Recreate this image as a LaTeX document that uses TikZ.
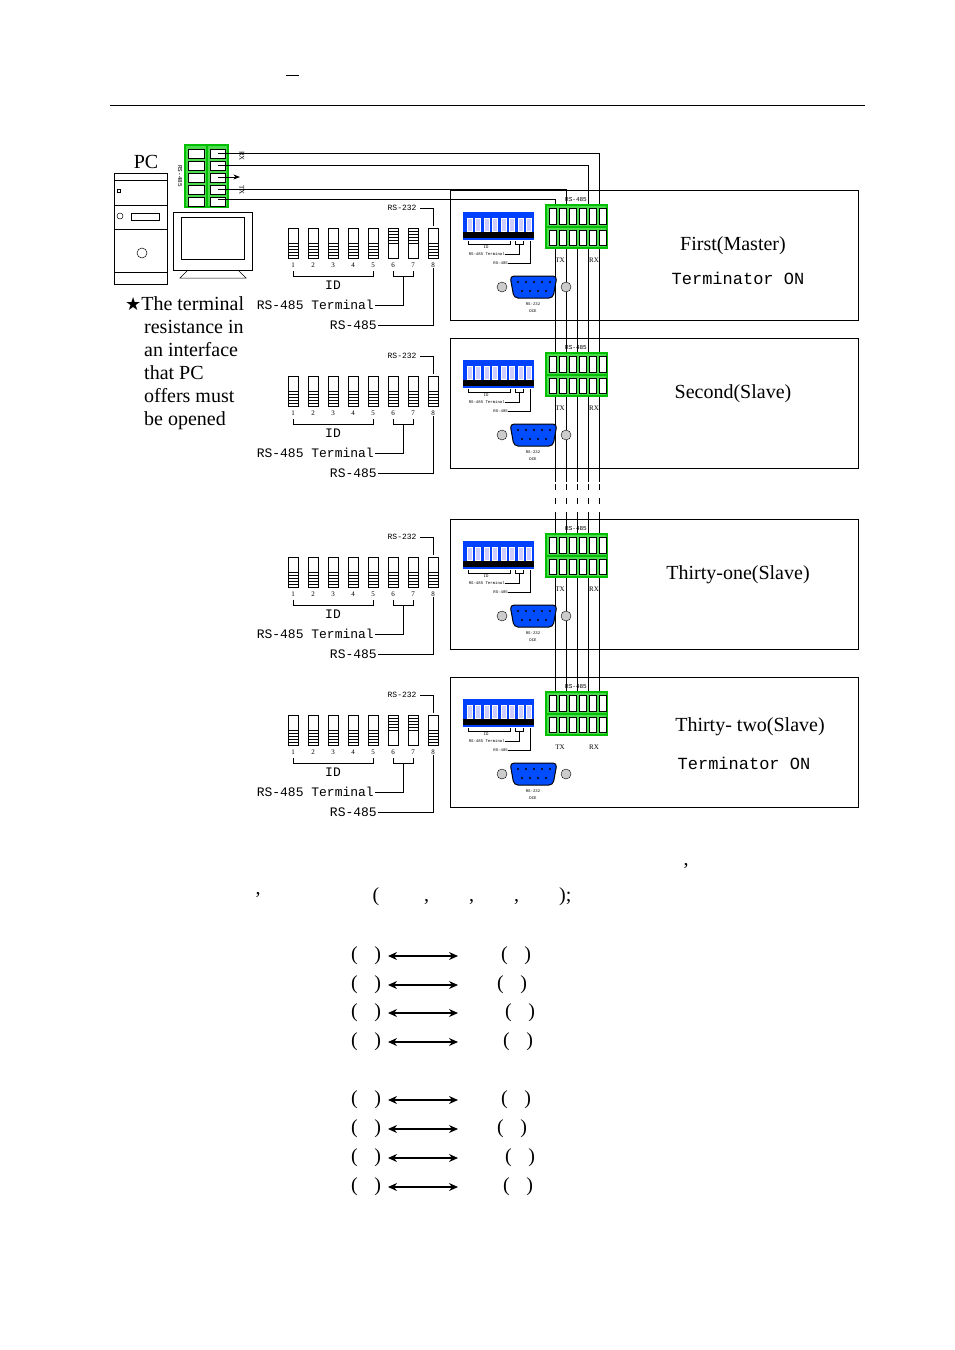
\documentclass[tikz,border=0pt]{standalone}
\usepackage{fontspec}
\setmainfont{Liberation Serif}
\newfontfamily\monofont{Liberation Mono}
\newfontfamily\symfont{DejaVu Sans}
\usetikzlibrary{arrows.meta}
\tikzset{
  dip/.style = {draw, fill=white, line width=0.6pt},
  bus/.style = {line width=0.8pt},
  thin line/.style = {line width=0.5pt},
  label/.style = {font=\fontsize{20}{22}\selectfont, inner sep=0pt},
  mono/.style = {font=\monofont\fontsize{13}{14}\selectfont, inner sep=1pt},
  tiny/.style = {font=\monofont\fontsize{4}{5}\selectfont, inner sep=0pt},
  blk/.style = {draw=green!75!black, fill=green!80!black!70!white, line width=1.2pt},
  slot/.style = {draw=black, fill=white, line width=0.4pt},
  pair/.style = {{Stealth[length=9pt,width=8pt]}-{Stealth[length=9pt,width=8pt]}, line width=1.1pt}
}
% one switch: x position, knob up (1) or down (0)
\newcommand\dipswitch[2]{%
  \draw[dip] (#1-5,228) rectangle (#1+5,258);
  \ifnum#2=1
    \foreach \k in {231,234,...,243} \draw[thin line] (#1-5,\k) -- (#1+5,\k);
  \else
    \foreach \k in {243,246,...,255} \draw[thin line] (#1-5,\k) -- (#1+5,\k);
  \fi}
% a whole unit: left switch drawing and panel with modules
\newcommand\devunit[4]{%
  \begin{scope}[shift={(0,#1)}]
    % switch settings drawing
    \foreach \i/\s in {1/0,2/0,3/0,4/0,5/0,6/#2,7/#2,8/0} {
      \pgfmathsetmacro\xx{273+20*\i}
      \dipswitch{\xx}{\s}
      \node[font=\fontsize{7}{8}\selectfont] at (\xx,265) {\i};
    }
    \draw[thin line] (293,271) -- (293,276) -- (373,276) -- (373,271);
    \node[mono] at (333,285) {ID};
    \draw[thin line] (393,271) -- (393,276) -- (413,276) -- (413,271);
    \draw[thin line] (403,276) -- (403,305) -- (375,305);
    \node[mono, anchor=east] (term) at (375,305) {RS-485 Terminal};
    \draw[thin line] (433,268) -- (433,325) -- (378,325);
    \node[mono, anchor=east] at (378,325) {RS-485};
    \draw[thin line] (433,226) -- (433,208) -- (420,208);
    \node[font=\monofont\fontsize{8}{9}\selectfont, anchor=east] at (420,208) {RS-232};
    % panel
    \draw[line width=0.7pt] (450,190) rectangle (858,320);
    % blue dip module
    \fill[blue!75!cyan] (463,212) rectangle (534,240);
    \fill[black] (463,232) rectangle (534,238);
    \foreach \i in {0,...,7} \draw[white, fill=white!80!blue] (467+8.5*\i,218) rectangle (472+8.5*\i,231);
    \draw[thin line] (468,241) -- (468,244) -- (510,244) -- (510,241);
    \node[tiny] at (486,247) {ID};
    \draw[thin line] (515,241) -- (515,244) -- (523,244) -- (523,241);
    \draw[thin line] (519,244) -- (519,254) -- (505,254);
    \node[tiny, anchor=east] at (505,254) {RS-485 Terminal};
    \draw[thin line] (530,241) -- (530,263) -- (508,263);
    \node[tiny, anchor=east] at (508,263) {RS-485};
    % DB9 port
    \draw[fill=gray!40] (502,287) circle (5);
    \draw[fill=gray!40] (566,287) circle (5);
    \draw[line width=1pt, fill=blue!70!cyan, rounded corners=4pt] (510,276) -- (557,276) -- (553,298) -- (514,298) -- cycle;
    \foreach \i in {0,...,4} \fill (518+8*\i,282) circle (1.2);
    \foreach \i in {0,...,3} \fill (522+8*\i,291) circle (1.2);
    \node[tiny] at (533,304) {RS-232};
    \node[tiny] at (533,311) {DCE};
    % green terminal block
    \draw[blk] (546,205) rectangle (607,227);
    \draw[blk] (546,227) rectangle (607,248);
    \foreach \i in {0,...,5} {
      \draw[slot] (549+10*\i,208) rectangle (556+10*\i,224);
      \draw[slot] (549+10*\i,230) rectangle (556+10*\i,245);
    }
    \node[tiny, font=\monofont\fontsize{6}{7}\selectfont] at (576,200) {RS-485};
    \node[font=\fontsize{7}{8}\selectfont] at (560,260) {TX};
    \node[font=\fontsize{7}{8}\selectfont] at (594,260) {RX};
    \node[label] at (#3) {#4};
  \end{scope}}
\begin{document}
\begin{tikzpicture}[x=1pt, y=-1pt]
  \useasboundingbox[fill=white] (0,0) rectangle (954,1350);
  % header rule
  \draw[thin line] (110,105) -- (865,105);
  \draw[thin line] (286,75) -- (299,75);

  % PC tower and monitor
  \node[label] (pc) at (146,162) {PC};
  \draw[thin line] (114,173) rectangle (167,284);
  \draw[thin line] (114,180) -- (167,180);
  \draw[thin line] (114,205) -- (167,205);
  \draw[thin line] (114,229) -- (167,229);
  \draw[thin line] (114,272) -- (167,272);
  \draw[thin line] (117,189) rectangle (120,192);
  \draw[thin line] (120,216) circle (3);
  \draw[thin line] (131,213) rectangle (159,220);
  \draw[thin line] (142,253) circle (5);
  \draw[thin line] (173,212) rectangle (252,270);
  \draw[thin line] (181,217) rectangle (244,259);
  \draw[thin line] (188,270) -- (180,278) -- (246,278) -- (238,270);

  % PC side connector
  \draw[blk] (185,145) rectangle (207,207);
  \draw[blk] (207,145) rectangle (228,207);
  \foreach \j in {0,...,4} {
    \draw[slot] (188,149+12*\j) rectangle (204,158+12*\j);
    \draw[slot] (210,149+12*\j) rectangle (225,158+12*\j);
  }
  \node[rotate=-90, font=\monofont\fontsize{6}{7}\selectfont] at (180,176) {RS-485};
  \node[rotate=-90, font=\fontsize{7}{8}\selectfont] at (242,156) {RX};
  \node[rotate=-90, font=\fontsize{7}{8}\selectfont] at (242,190) {TX};

  % bus lines
  \coordinate (b1) at (555,199);
  \coordinate (b2) at (566,189);
  \coordinate (b4) at (588,165);
  \coordinate (b5) at (599,153);
  \draw[bus] (218,153) -- (b5) -- (599,482);
  \draw[bus] (218,165) -- (b4) -- (588,482);
  \draw[bus, -Stealth] (218,177) -- (240,177);
  \draw[bus] (577,218) -- (577,482);
  \draw[bus] (218,189) -- (b2) -- (566,482);
  \draw[bus] (218,199) -- (b1) -- (555,482);
  \foreach \x in {555,566,577,588,599} {
    \draw[bus, dash pattern=on 6pt off 8pt] (\x,484) -- (\x,518);
    \draw[bus] (\x,518) -- (\x,700);
  }

  % units
  \devunit{0}{1}{733,246}{First(Master)}
  \node[label] at (738,278) {\monofont\fontsize{17}{18}\selectfont Terminator ON};
  \devunit{148}{0}{733,246}{Second(Slave)}
  \devunit{329}{0}{738,246}{Thirty-one(Slave)}
  \devunit{487}{1}{750,240}{Thirty- two(Slave)}
  \node[label] at (744,763) {\monofont\fontsize{17}{18}\selectfont Terminator ON};

  % note
  \node[label, anchor=north west, align=left, font=\fontsize{20}{23}\selectfont] (note) at (125,296)
    {{\symfont\fontsize{18}{20}\selectfont ★}The terminal\\\hspace*{19pt}resistance in\\\hspace*{19pt}an interface\\\hspace*{19pt}that PC\\\hspace*{19pt}offers must\\\hspace*{19pt}be opened};

  % text below
  \node[label] at (686,866) {,};
  \node[label] at (258,895) {,};
  \node[label] at (472,897) {(\qquad\ ,\qquad ,\qquad ,\qquad );};

  % pin pairs
  \foreach \y/\d in {956/0,985/-4,1013/4,1042/2,1100/0,1129/-4,1158/4,1187/2} {
    \node[label] (l\y) at (366,\y) {(\;\;\;)};
    \node[label] (r\y) at (516+\d,\y) {(\;\;\;)};
    \draw[pair] (388,\y) -- (458,\y);
  }
\end{tikzpicture}
\end{document}
